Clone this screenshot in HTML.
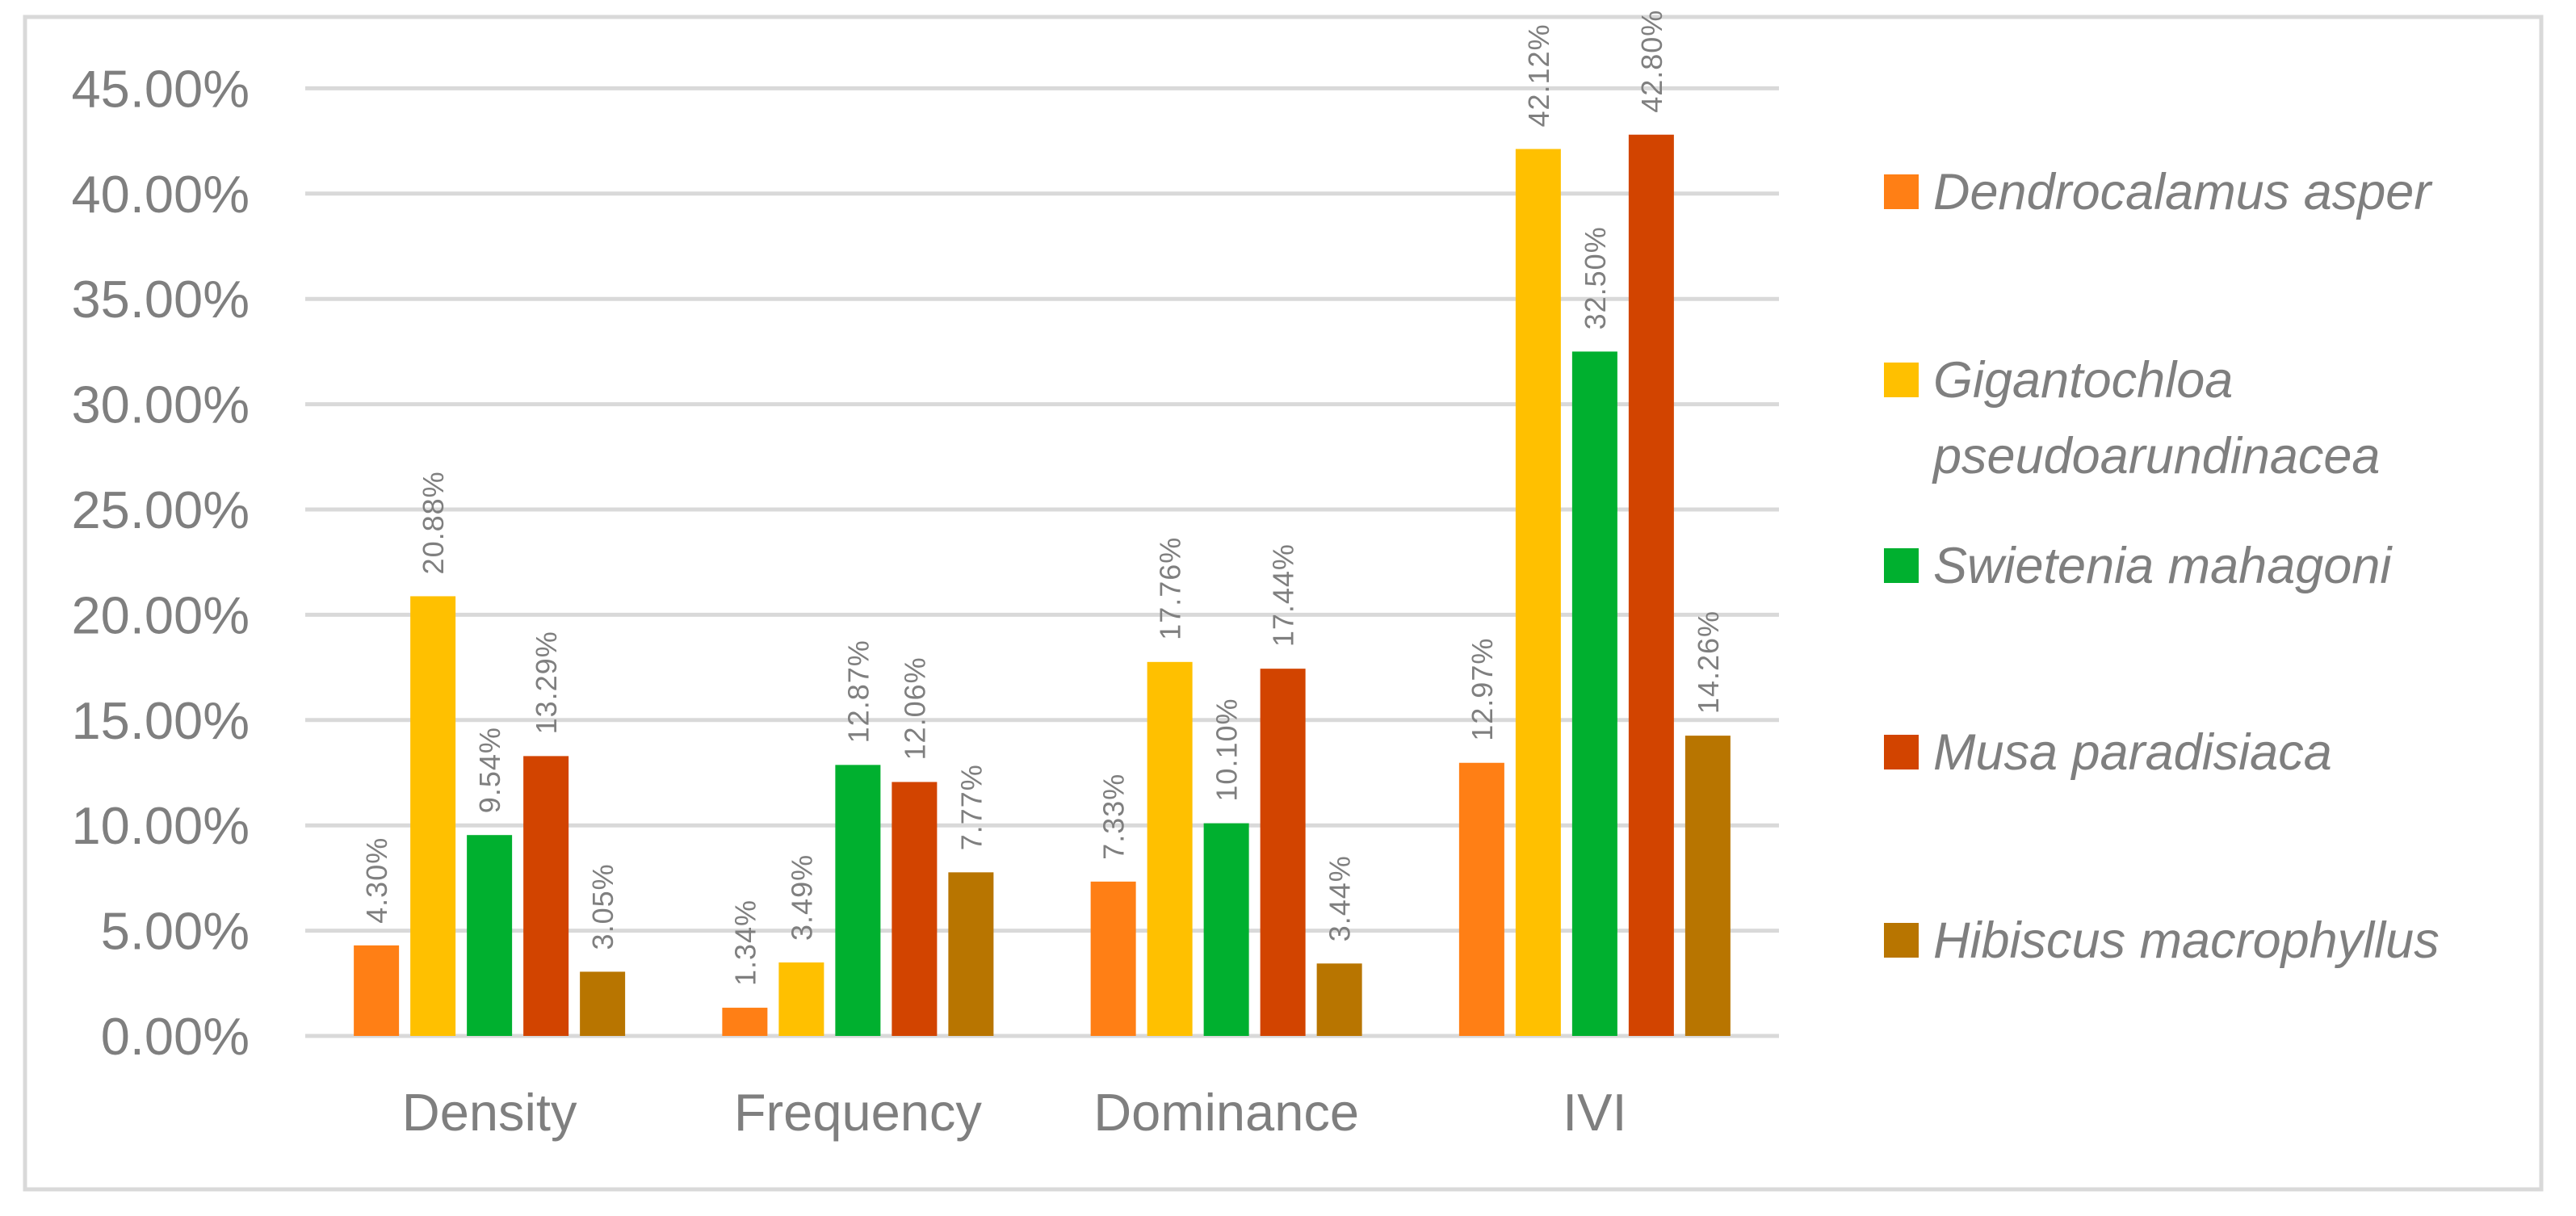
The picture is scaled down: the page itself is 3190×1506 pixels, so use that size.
<!DOCTYPE html>
<html><head><meta charset="utf-8"><style>
html,body{margin:0;padding:0;background:#fff;}
svg{display:block;}
text{font-family:"Liberation Sans",sans-serif;fill:#7f7f7f;}
</style></head><body>
<svg id="chart" width="3190" height="1506" viewBox="0 0 3190 1506" xmlns="http://www.w3.org/2000/svg">
<rect x="31" y="21" width="3116" height="1452" fill="#fff" stroke="#d9d9d9" stroke-width="5"/>
<g id="grid"></g><g id="ylabels"></g><g id="bars"></g><g id="vlabels"></g><g id="xlabels"></g><g id="legend"></g>
</svg>
<script>
const categories = ["Density","Frequency","Dominance","IVI"];
const seriesNames = ["Dendrocalamus asper","Gigantochloa pseudoarundinacea","Swietenia mahagoni","Musa paradisiaca","Hibiscus macrophyllus"];
const dendrocalamus = [4.30, 1.34, 7.33, 12.97];
const gigantochloa = [20.88, 3.49, 17.76, 42.12];
const swietenia = [9.54, 12.87, 10.10, 32.50];
const musa = [13.29, 12.06, 17.44, 42.80];
const hibiscus = [3.05, 7.77, 3.44, 14.26];
const yTicks = [0,5,10,15,20,25,30,35,40,45];

const series = [dendrocalamus, gigantochloa, swietenia, musa, hibiscus];
const colors = ["#ff7f15","#ffc000","#00b02f","#d24400","#b87500"];
const NS = "http://www.w3.org/2000/svg";
const plotL = 378, plotR = 2203, y0 = 1283, pxPerUnit = 26.08;
const yScale = v => y0 - v * pxPerUnit;
const catW = (plotR - plotL) / categories.length;
const xCenter = i => plotL + catW * (i + 0.5);
const barW = 56, pitch = 70;
function mk(tag, attrs, parent){const e=document.createElementNS(NS,tag);for(const k in attrs)e.setAttribute(k,attrs[k]);parent.appendChild(e);return e;}
const g = id => document.getElementById(id);

yTicks.forEach(t=>{
  const l = mk('line',{x1:plotL,x2:plotR,y1:yScale(t),y2:yScale(t),stroke:'#d9d9d9','stroke-width':5},g('grid'));
  
  
  const tx = mk('text',{x:309,y:yScale(t)+23,'text-anchor':'end','font-size':65},g('ylabels'));
  tx.textContent = t.toFixed(2)+'%';
  
  
});

categories.forEach((c,ci)=>{
  series.forEach((s,si)=>{
    const v = s[ci];
    const cx = xCenter(ci) + (si-2)*pitch;
    const r = mk('rect',{x:cx-barW/2,y:yScale(v),width:barW,height:y0-yScale(v),fill:colors[si]},g('bars'));
    
    
    const ty = yScale(v)-27;
    const t = mk('text',{x:0,y:0,'font-size':36,transform:`translate(${cx+13},${ty}) rotate(-90)`,'letter-spacing':'1'},g('vlabels'));
    t.textContent = v.toFixed(2)+'%';
    
    
  });
  const xl = mk('text',{x:xCenter(ci),y:1400,'text-anchor':'middle','font-size':65},g('xlabels'));
  xl.textContent = c;
  
  
});

const legY = [238, 471, 701, 932, 1165];
seriesNames.forEach((n,i)=>{
  const sq = mk('rect',{x:2333,y:legY[i]-22,width:43,height:43,fill:colors[i]},g('legend'));
  
  
  const words = i===1 ? ["Gigantochloa","pseudoarundinacea"] : [n];
  words.forEach((w,wi)=>{
    const t = mk('text',{x:2394,y:legY[i]+21+wi*94,'font-size':63,'font-style':'italic'},g('legend'));
    t.textContent = w;
    
    
  });
});
</script>
</body></html>
